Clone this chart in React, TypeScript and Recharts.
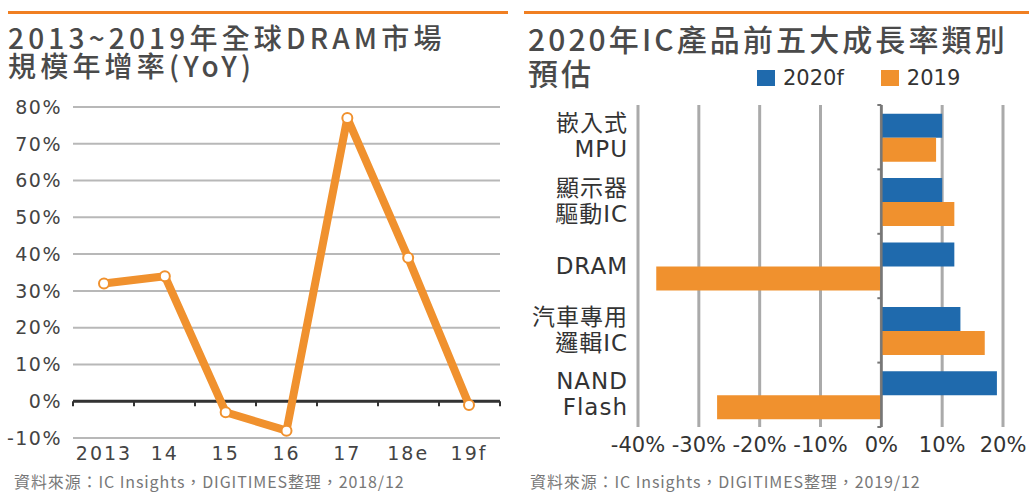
import React from 'react';
import { LineChart, Line, XAxis, YAxis, CartesianGrid, ReferenceLine, BarChart, Bar, Legend } from 'recharts';

const years = ['2013', '14', '15', '16', '17', '18e', '19f'];
const yoyValues = [32, 34, -3, -8, 77, 39, -1];
const yoyTicks = [-10, 0, 10, 20, 30, 40, 50, 60, 70, 80];

const categories = ['嵌入式\nMPU', '顯示器\n驅動IC', 'DRAM', '汽車專用\n邏輯IC', 'NAND\nFlash'];
const growth2020f = [10, 10, 12, 13, 19];
const growth2019 = [9, 12, -37, 17, -27];
const growthTicks = [-40, -30, -20, -10, 0, 10, 20];

const lineData = years.map((y, i) => ({ year: y, yoy: yoyValues[i] }));
const barData = categories.map((c, i) => ({ cat: c, f2020: growth2020f[i], y2019: growth2019[i] }));

const ORANGE = '#F0912E';
const BLUE = '#1F6AAD';
const TEXT = '#4a4a4a';
const NUMFONT = 'DejaVu Sans, sans-serif';
const CJK = '"Noto Sans CJK TC", "Noto Sans CJK SC", sans-serif';
const MIXED = '"DejaVu Sans", "Noto Sans CJK TC", sans-serif';

const ZeroAxisH = (props: any) => {
  const { x1, y1, x2, y2 } = props;
  const n = 7;
  const ticks = [];
  for (let i = 0; i <= n; i++) {
    const x = x1 + ((x2 - x1) * i) / n;
    ticks.push(<line key={i} x1={x} x2={x} y1={y1} y2={y1 + 5} stroke="#333" strokeWidth={2} />);
  }
  return (
    <g>
      <line x1={x1} x2={x2} y1={y1} y2={y2} stroke="#333" strokeWidth={3} />
      {ticks}
    </g>
  );
};

const ZeroAxisV = (props: any) => {
  const { x1, y1, x2, y2 } = props;
  const n = 5;
  const ticks = [];
  for (let i = 0; i <= n; i++) {
    const y = y1 + ((y2 - y1) * i) / n;
    ticks.push(<line key={i} x1={x1 - 4} x2={x1} y1={y} y2={y} stroke="#777" strokeWidth={2} />);
  }
  return (
    <g>
      <line x1={x1} x2={x2} y1={y1} y2={y2} stroke="#777" strokeWidth={2.5} />
      {ticks}
    </g>
  );
};

const CatTick = (props: any) => {
  const { x, y, payload } = props;
  const lines = String(payload.value).split('\n');
  const offsets = lines.length === 2 ? [-14, 12] : [0];
  return (
    <g>
      {lines.map((l, i) => (
        <text key={i} x={x - 2} y={y + offsets[i]} dy="0.36em" textAnchor="end" fill="#333" fontSize={23} fontFamily={MIXED} letterSpacing={1}>
          {l}
        </text>
      ))}
    </g>
  );
};

const LegendContent = (props: any) => {
  const { payload } = props;
  const items = [...(payload || [])].sort((a: any, b: any) => (a.dataKey === 'f2020' ? -1 : b.dataKey === 'f2020' ? 1 : 0));
  return (
    <div style={{ display: 'flex', alignItems: 'center' }}>
      {items.map((p: any, i: number) => (
        <div key={i} style={{ display: 'flex', alignItems: 'center', marginRight: i === 0 ? 37 : 0 }}>
          <div style={{ width: 18, height: 16, background: p.color, marginRight: 8 }} />
          <span style={{ fontSize: 21, fontFamily: NUMFONT, color: '#333' }}>{p.value}</span>
        </div>
      ))}
    </div>
  );
};

const titleLeft = { position: 'absolute' as const, left: 8, fontFamily: CJK, fontSize: 28, lineHeight: '28px', fontWeight: 500, color: TEXT, letterSpacing: 4.2, whiteSpace: 'nowrap' as const };
const titleRight = { position: 'absolute' as const, left: 528, fontFamily: CJK, fontSize: 30, lineHeight: '32px', fontWeight: 500, color: TEXT, letterSpacing: 3.1, whiteSpace: 'nowrap' as const };
const sourceStyle = { position: 'absolute' as const, top: 470, fontFamily: CJK, fontSize: 16, lineHeight: '22px', color: '#777', whiteSpace: 'nowrap' as const, letterSpacing: 0.9 };

export default function App() {
  return (
    <div style={{ position: 'absolute', left: 0, top: 0, width: 1029, height: 493, background: '#fff', overflow: 'hidden' }}>
      {/* Left panel */}
      <div style={{ position: 'absolute', left: 8, top: 11, width: 500, height: 3, background: '#F07F22' }} />
      <div style={{ ...titleLeft, top: 23 }}>2013~2019年全球DRAM市場</div>
      <div style={{ ...titleLeft, top: 51 }}>規模年增率(YoY)</div>
      <div style={{ position: 'absolute', left: 0, top: 0 }}>
        <LineChart width={510} height={493} data={lineData} margin={{ top: 107, right: 10, bottom: 25, left: 0 }}>
          <CartesianGrid vertical={false} stroke="#b8b8b8" strokeWidth={2} />
          <XAxis
            dataKey="year"
            scale="point"
            padding={{ left: 31, right: 31 }}
            axisLine={false}
            tickLine={false}
            height={30}
            tickMargin={3}
            tick={{ fill: '#444', fontSize: 19, fontFamily: NUMFONT, letterSpacing: 2 }}
          />
          <YAxis
            domain={[-10, 80]}
            ticks={yoyTicks}
            tickFormatter={(v: number) => `${v}%`}
            width={73}
            axisLine={false}
            tickLine={false}
            tickMargin={5}
            interval={0}
            tick={{ fill: '#444', fontSize: 19, fontFamily: NUMFONT, letterSpacing: 1.5 }}
          />
          <ReferenceLine y={0} shape={ZeroAxisH} />
          <Line
            dataKey="yoy"
            stroke={ORANGE}
            strokeWidth={8}
            strokeLinejoin="round"
            dot={{ r: 5, fill: '#fff', stroke: ORANGE, strokeWidth: 2 }}
            isAnimationActive={false}
          />
        </LineChart>
      </div>
      <div style={{ ...sourceStyle, left: 14 }}>資料來源：IC Insights，DIGITIMES整理，2018/12</div>

      {/* Right panel */}
      <div style={{ position: 'absolute', left: 524, top: 11, width: 505, height: 3, background: '#F07F22' }} />
      <div style={{ ...titleRight, top: 22 }}>2020年IC產品前五大成長率類別</div>
      <div style={{ ...titleRight, top: 56 }}>預估</div>
      <div style={{ position: 'absolute', left: 510, top: 0 }}>
        <BarChart
          layout="vertical"
          width={519}
          height={493}
          data={barData}
          margin={{ top: 105, right: 26, bottom: 36, left: 0 }}
          barCategoryGap="13.5%"
          barGap={0}
        >
          <CartesianGrid horizontal={false} stroke="#aaa" strokeWidth={3} />
          <XAxis
            type="number"
            domain={[-40, 20]}
            ticks={growthTicks}
            tickFormatter={(v: number) => `${v}%`}
            axisLine={false}
            tickLine={false}
            height={30}
            tickMargin={4}
            interval={0}
            tick={{ fill: '#333', fontSize: 21, fontFamily: NUMFONT }}
          />
          <YAxis type="category" dataKey="cat" width={128} axisLine={false} tickLine={false} tick={<CatTick />} interval={0} />
          <Legend
            layout="horizontal"
            verticalAlign="middle"
            align="center"
            content={<LegendContent />}
            wrapperStyle={{ position: 'absolute', top: 66, left: 247, width: 'auto' }}
          />
          <ReferenceLine x={0} shape={ZeroAxisV} />
          <Bar dataKey="f2020" name="2020f" fill={BLUE} isAnimationActive={false} />
          <Bar dataKey="y2019" name="2019" fill={ORANGE} isAnimationActive={false} />
        </BarChart>
      </div>
      <div style={{ ...sourceStyle, left: 530 }}>資料來源：IC Insights，DIGITIMES整理，2019/12</div>
    </div>
  );
}
